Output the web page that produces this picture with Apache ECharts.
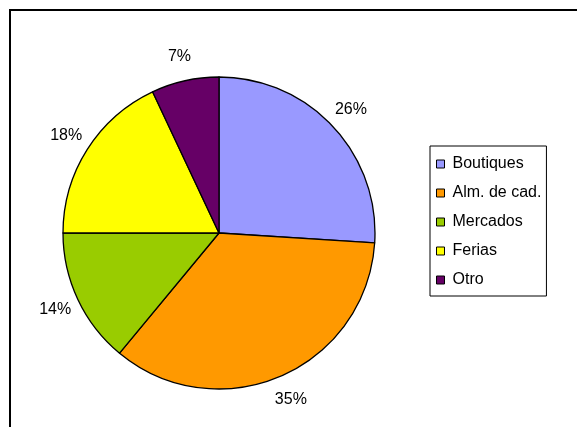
<!DOCTYPE html>
<html>
<head>
<meta charset="utf-8">
<script src="https://cdn.jsdelivr.net/npm/echarts@6/dist/echarts.min.js"></script>
<style>
  html, body { margin: 0; padding: 0; background: #fff; }
  #chart { width: 577px; height: 427px; }
</style>
</head>
<body>
<div id="chart"></div>
<script>
// Sales channel shares (percent)
const categories = ['Boutiques', 'Alm. de cad.', 'Mercados', 'Ferias', 'Otro'];
const shares = [26, 35, 14, 18, 7];
const colors = ['#9999FF', '#FF9900', '#99CC00', '#FFFF00', '#660066'];

const FONT = '"Liberation Sans", Arial, sans-serif';

const chart = echarts.init(document.getElementById('chart'));

chart.setOption({
  animation: false,
  backgroundColor: '#fff',
  color: colors,
  graphic: [{
    type: 'rect',
    shape: { x: 10, y: 10, width: 620, height: 480 },
    style: { fill: 'none', stroke: '#000', lineWidth: 2 },
    silent: true
  }],
  legend: {
    orient: 'vertical',
    left: 430,
    top: 146,
    padding: [10, 5, 8, 6],
    itemGap: 13,
    itemWidth: 8,
    itemHeight: 8,
    icon: 'rect',
    borderColor: '#000',
    borderWidth: 1,
    itemStyle: { borderColor: '#000', borderWidth: 1 },
    textStyle: { fontFamily: FONT, fontSize: 16, color: '#000', padding: [0, 0, 0, 3] },
    data: categories
  },
  series: [{
    type: 'pie',
    center: [219, 233],
    radius: 156,
    startAngle: 90,
    clockwise: true,
    silent: true,
    itemStyle: { borderColor: '#000', borderWidth: 1.3 },
    label: {
      show: true,
      position: 'outside',
      formatter: '{c}%',
      fontFamily: FONT,
      fontSize: 16,
      color: '#000'
    },
    labelLine: {
      show: true,
      length: 25,
      length2: 0,
      lineStyle: { opacity: 0 }
    },
    // centre each percentage on the outer end of its (hidden) guide line
    labelLayout: function (params) {
      const pts = params.labelLinePoints;
      if (!pts || pts.length < 2) return {};
      return { x: pts[1][0], y: pts[1][1], align: 'center', verticalAlign: 'middle' };
    },
    data: categories.map((name, i) => ({ name: name, value: shares[i] }))
  }]
});
</script>
</body>
</html>
